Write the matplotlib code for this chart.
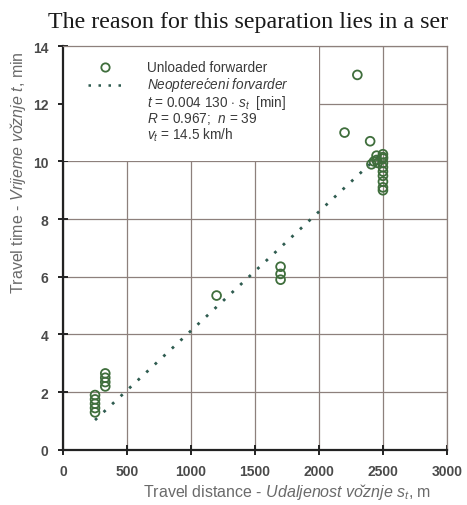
import numpy as np
import matplotlib.pyplot as plt
from matplotlib.patches import Rectangle

plt.rcParams['font.family'] = ['Liberation Sans', 'DejaVu Sans']
plt.rcParams['mathtext.fontset'] = 'custom'
plt.rcParams['mathtext.rm'] = 'Liberation Sans'
plt.rcParams['mathtext.it'] = 'Liberation Sans:italic'

# Unloaded forwarder: travel distance (m) vs travel time (min)
distance = [250, 250, 250, 250, 250,
            330, 330, 330, 330,
            1200,
            1700, 1700, 1700,
            2200, 2300, 2400,
            2410, 2430, 2450, 2450, 2460,
            2500, 2500, 2500, 2500, 2500, 2500, 2500, 2500, 2500, 2500]
time = [1.30, 1.45, 1.60, 1.75, 1.90,
        2.20, 2.35, 2.50, 2.65,
        5.35,
        5.90, 6.10, 6.35,
        11.0, 13.0, 10.7,
        9.90, 10.0, 10.05, 10.2, 9.95,
        10.25, 10.1, 9.95, 9.8, 9.65, 9.5, 9.3, 9.1, 9.0, 10.15]

slope = 0.00413          # t = 0.004 130 * s_t
fit_range = [250, 2500]

green = '#3f6e3c'
grid_c = '#8d807c'
tick_c = '#4a4a4a'
label_c = '#6a6a6a'

fig = plt.figure(figsize=(4.67, 5.06), dpi=100)
ax = fig.add_axes([0.135, 0.109, 0.822, 0.798])

ax.set_xlim(0, 3000)
ax.set_ylim(0, 14)
ax.set_xticks(np.arange(0, 3001, 500))
ax.set_yticks(np.arange(0, 15, 2))
ax.set_axisbelow(True)
ax.grid(True, color=grid_c, linewidth=0.9)

for s in ['top', 'right']:
    ax.spines[s].set_color(grid_c)
    ax.spines[s].set_linewidth(0.9)
for s in ['left', 'bottom']:
    ax.spines[s].set_color('#222222')
    ax.spines[s].set_linewidth(1.6)

ax.tick_params(direction='inout', length=7, width=1.4, color='#222222',
               labelsize=10, labelcolor=tick_c, pad=7)
for lab in ax.get_xticklabels() + ax.get_yticklabels():
    lab.set_fontweight('bold')

# white legend area hides the grid
ax.add_patch(Rectangle((0, 10), 2000, 4, facecolor='white', edgecolor='none', zorder=1))

xf = np.linspace(fit_range[0], fit_range[1], 50)
ax.plot(xf, slope * xf, linestyle=(0, (1, 3.2)), color='#2f5c50', linewidth=2.0, zorder=3)
ax.scatter(distance, time, s=40, facecolors='none', edgecolors=green, linewidths=1.3, zorder=4)

# legend block
ax.plot([0.11], [0.948], marker='o', markersize=6, markerfacecolor='none',
        markeredgecolor=green, markeredgewidth=1.3, transform=ax.transAxes, zorder=5)
ax.plot([0.065, 0.16], [0.903, 0.903], linestyle=(0, (1, 3)), color='#2f5c50',
        linewidth=1.8, transform=ax.transAxes, zorder=5)
tx = 0.22
lines = ["Unloaded forwarder",
         r"$\it{Neoptere\acute{c}eni\ forvarder}$",
         r"$t$ = 0.004 130 $\cdot$ $s_t$  [min]",
         r"$R$ = 0.967;  $n$ = 39",
         r"$v_t$ = 14.5 km/h"]
ys = [0.948, 0.905, 0.862, 0.822, 0.782]
for y, t in zip(ys, lines):
    ax.text(tx, y, t, transform=ax.transAxes, fontsize=9.8, color='#3a3a3a',
            va='center', ha='left', zorder=6)

ax.set_xlabel(r"Travel distance - $\it{Udaljenost\ vo\check{z}nje\ s_t}$, m",
              fontsize=11.5, color=label_c)
ax.xaxis.set_label_coords(0.583, -0.078)
ax.set_ylabel(r"Travel time - $\it{Vrijeme\ vo\check{z}nje\ t}$, min",
              fontsize=11.5, color=label_c)
ax.yaxis.set_label_coords(-0.09, 0.69)

fig.text(0.103, 0.955, "The reason for this separation lies in a ser",
         family='Liberation Serif', fontsize=17.3, color='#1a1a1a', va='center')

fig.savefig('out.png', dpi=100)
